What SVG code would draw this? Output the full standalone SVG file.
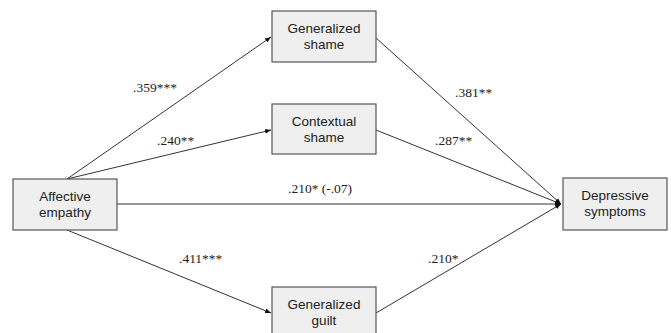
<svg xmlns="http://www.w3.org/2000/svg" width="671" height="333" viewBox="0 0 671 333">
<defs>
<marker id="ah" viewBox="0 0 10 10" refX="10" refY="5" markerWidth="6" markerHeight="6" orient="auto" markerUnits="userSpaceOnUse">
<path d="M0,1 L10,5 L0,9 Z" fill="#111"/>
</marker>
<style>
.box{fill:#efefef;stroke:#555;stroke-width:1.2}
.nl{font-family:"Liberation Sans",Arial,sans-serif;font-size:13.5px;fill:#222;text-anchor:middle}
.el{font-family:"Liberation Serif","Times New Roman",serif;font-size:13.5px;fill:#222}
.c{stroke:#333;stroke-width:1;fill:none}
</style>
</defs>
<rect width="671" height="333" fill="#fff"/>
<g id="connectors">
<line class="c" x1="67" y1="179" x2="271" y2="37" marker-end="url(#ah)"/>
<line class="c" x1="67" y1="179" x2="271" y2="130" marker-end="url(#ah)"/>
<line class="c" x1="117" y1="204" x2="561" y2="204" marker-end="url(#ah)"/>
<line class="c" x1="67" y1="230" x2="271" y2="313" marker-end="url(#ah)"/>
<line class="c" x1="376" y1="38" x2="561" y2="204" marker-end="url(#ah)"/>
<line class="c" x1="376" y1="130" x2="561" y2="204" marker-end="url(#ah)"/>
<line class="c" x1="376" y1="313" x2="561" y2="204" marker-end="url(#ah)"/>
<text class="el" x="133" y="92">.359***</text>
<text class="el" x="157" y="145">.240**</text>
<text class="el" x="455" y="97">.381**</text>
<text class="el" x="435" y="145">.287**</text>
<text class="el" x="288" y="193">.210* (-.07)</text>
<text class="el" x="179" y="263">.411***</text>
<text class="el" x="428" y="263">.210*</text>
</g>
<g id="affective">
<rect class="box" x="13" y="179" width="104" height="51"/>
<text class="nl" x="65" y="201">Affective</text>
<text class="nl" x="65" y="217">empathy</text>
</g>
<g id="genshame">
<rect class="box" x="272" y="11" width="104" height="51"/>
<text class="nl" x="324" y="33">Generalized</text>
<text class="nl" x="324" y="49">shame</text>
</g>
<g id="ctxshame">
<rect class="box" x="272" y="104" width="104" height="50"/>
<text class="nl" x="324" y="126">Contextual</text>
<text class="nl" x="324" y="142">shame</text>
</g>
<g id="depressive">
<rect class="box" x="563" y="178" width="104" height="52"/>
<text class="nl" x="615" y="200">Depressive</text>
<text class="nl" x="615" y="216">symptoms</text>
</g>
<g id="genguilt">
<rect class="box" x="272" y="287" width="104" height="51"/>
<text class="nl" x="324" y="309">Generalized</text>
<text class="nl" x="324" y="325">guilt</text>
</g>
</svg>
